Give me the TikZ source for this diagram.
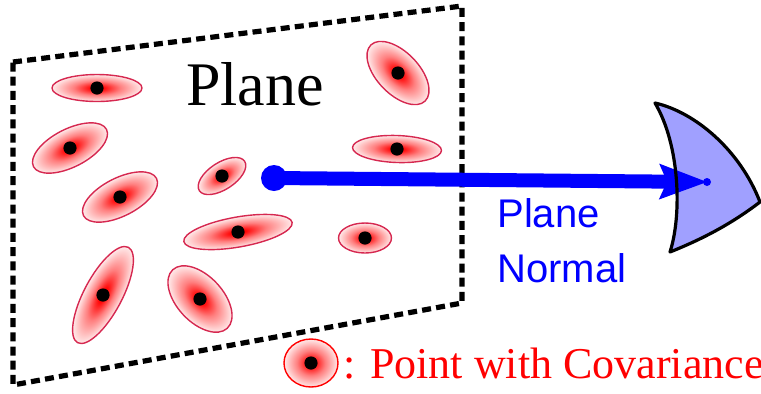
\documentclass[tikz,border=0pt]{standalone}
\usepackage{fontspec}
\setmainfont{Liberation Serif}
\newfontfamily\normsans{Liberation Sans}
\usetikzlibrary{arrows.meta, positioning, calc}

\definecolor{covedge}{RGB}{214,40,80}
\definecolor{capfill}{RGB}{160,160,255}
\pgfdeclareradialshading{covfade}{\pgfpoint{0bp}{0bp}}{color(0bp)=(red); color(3bp)=(red); color(13bp)=(red!50); color(25bp)=(red!8); color(50bp)=(red!8)}

% one point with its covariance: x, y, half axes a and b, tilt
\newcommand{\covpoint}[5]{%
  \begin{scope}[transform canvas={shift={(#1,#2)}, rotate=#5}]
    \shade[covblob] (0,0) ellipse [x radius=#3, y radius=#4];
  \end{scope}
  \fill[black] (#1,#2) circle (3.3pt);
}

\begin{document}
\begin{tikzpicture}[x=0.5pt, y=-0.5pt,
  covblob/.style={shading=covfade, draw=covedge, line width=0.7pt},
  planeedge/.style={black, line width=2.6pt, dash pattern=on 4.5pt off 2.6pt},
  normarrow/.style={blue, line width=7pt, -{Stealth[length=24pt, width=18pt, inset=4pt, line width=0pt]}},
  capedge/.style={black, line width=1.6pt, line join=round}]
\useasboundingbox (0,0) rectangle (761,393);
% the plane, seen at a slant
\coordinate (pTL) at (13,62);
\coordinate (pTR) at (462,6);
\coordinate (pBR) at (462,303);
\coordinate (pBL) at (13,385);
\draw[planeedge] (pTL) -- (pTR) -- (pBR) -- (pBL) -- cycle;
\node[anchor=base, font=\fontsize{31}{36}\selectfont] (planelbl) at (255,105) {Plane};
% points on the plane
\covpoint{97}{88}{45}{13.5}{0}
\covpoint{398}{73}{39}{21}{-46}
\covpoint{70}{148}{41}{19}{27}
\covpoint{120}{197}{41}{19}{27}
\covpoint{222}{176}{27}{13.5}{33}
\covpoint{238}{232}{55}{15}{10}
\covpoint{365}{238}{26.5}{15}{0}
\covpoint{397}{149}{44.5}{13.5}{-2}
\covpoint{103}{295}{54}{19}{62}
\covpoint{200}{299}{40}{23}{-47}
% normal: cap fill first, arrow, then the cap outline on top
\coordinate (capT) at (655,103);
\coordinate (capR) at (760,202);
\coordinate (capB) at (670,252);
\fill[capfill] (capT) .. controls (695,112) and (740,150) .. (capR)
  .. controls (730,225) and (700,240) .. (capB)
  .. controls (682,215) and (680,145) .. (capT) -- cycle;
\coordinate (nbase) at (274,178);
\coordinate (ntip) at (707,182);
\draw[normarrow] (nbase) -- (ntip);
\fill[blue] (nbase) circle (6.5pt);
\fill[blue] (ntip) circle (2pt);
\draw[capedge] (capT) .. controls (695,112) and (740,150) .. (capR)
  .. controls (730,225) and (700,240) .. (capB)
  .. controls (682,215) and (680,145) .. (capT) -- cycle;
\node[anchor=base west, text=blue, font=\normsans\fontsize{20}{24}\selectfont, inner sep=0pt] (normlbl) at (497,227) {Plane};
\node[anchor=base west, text=blue, font=\normsans\fontsize{20}{24}\selectfont, inner sep=0pt] (normlbl2) at (497,282) {Normal};
% legend
\begin{scope}[transform canvas={shift={(311,363)}}]
  \shade[covblob, draw=red] (0,0) ellipse [x radius=27, y radius=24];
\end{scope}
\fill[black] (311,363) circle (3.3pt);
\node[anchor=base west, text=red, font=\fontsize{22}{26}\selectfont, inner sep=0pt] (covlbl) at (343,378) {: Point with Covariance};
\end{tikzpicture}
\end{document}
